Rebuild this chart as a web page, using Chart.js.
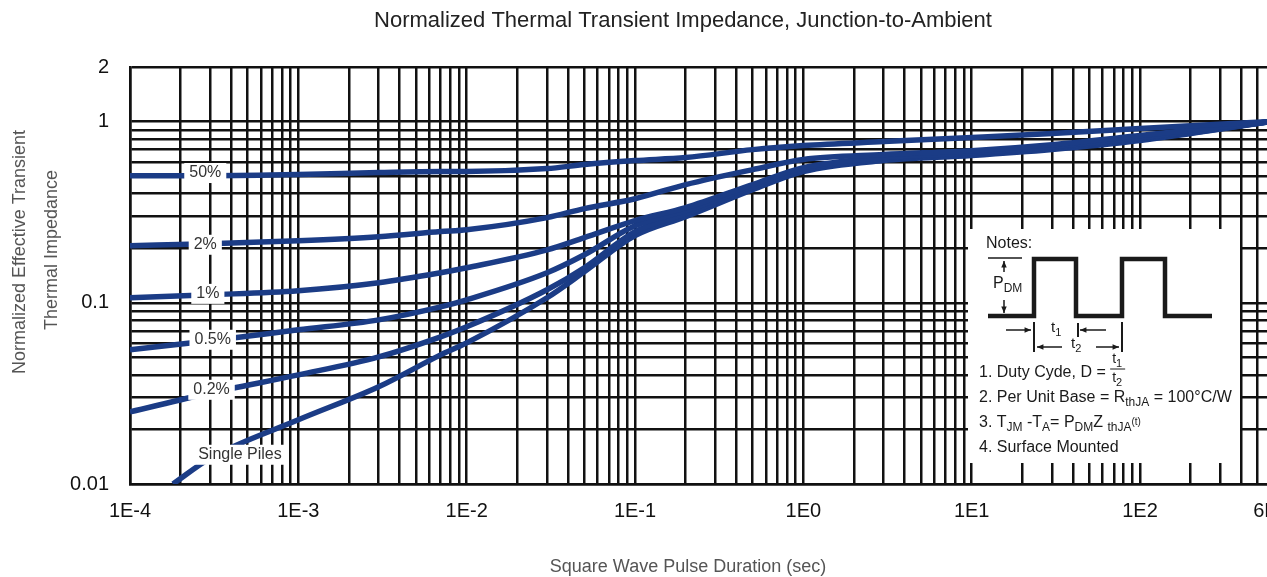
<!DOCTYPE html>
<html lang="en">
<head>
<meta charset="UTF-8">
<title>Normalized Thermal Transient Impedance, Junction-to-Ambient</title>
<script src="https://cdn.jsdelivr.net/npm/chart.js@4"></script>
<style>
  * { margin: 0; padding: 0; box-sizing: border-box; }
  html, body { width: 1267px; height: 577px; overflow: hidden; background: #fff; }
  #wrap { position: relative; width: 1290px; height: 577px; }
</style>
</head>
<body>
<div id="wrap"><canvas id="zth" width="1290" height="577"></canvas></div>
<script>
const pulseTimes = [1e-4, 3e-4, 1e-3, 3e-3, 7e-3, 1e-2, 3e-2, 5e-2, 0.1, 0.2, 0.5, 1, 3, 10, 30, 100, 600];
const singleTimes = [1.8e-4, 3e-4, 1e-3, 3e-3, 7e-3, 1e-2, 3e-2, 5e-2, 0.1, 0.2, 0.5, 1, 3, 10, 30, 100, 600];

// normalized effective transient thermal impedance per duty cycle
const duty50 = [0.503, 0.503, 0.510, 0.523, 0.530, 0.530, 0.550, 0.579, 0.609, 0.633, 0.700, 0.737, 0.775, 0.816, 0.858, 0.915, 1.0];
const duty2  = [0.2065, 0.212, 0.220, 0.2315, 0.247, 0.253, 0.295, 0.331, 0.375, 0.449, 0.543, 0.617, 0.657, 0.691, 0.746, 0.837, 1.0];
const duty1  = [0.1066, 0.1107, 0.1165, 0.129, 0.1464, 0.156, 0.196, 0.229, 0.284, 0.335, 0.449, 0.557, 0.633, 0.674, 0.728, 0.816, 1.0];
const duty05 = [0.0550, 0.0617, 0.0709, 0.0805, 0.0950, 0.1039, 0.1464, 0.184, 0.266, 0.322, 0.437, 0.543, 0.625, 0.666, 0.718, 0.806, 1.0];
const duty02 = [0.0250, 0.0318, 0.0400, 0.0503, 0.0649, 0.0737, 0.118, 0.156, 0.247, 0.310, 0.426, 0.536, 0.617, 0.657, 0.709, 0.795, 1.0];
const singlePulse = [0.010, 0.0139, 0.0226, 0.0344, 0.0516, 0.0601, 0.1066, 0.1483, 0.235, 0.299, 0.421, 0.530, 0.609, 0.649, 0.700, 0.785, 1.0];

// axes
const xMin = 1e-4, xMax = 600;
const yMin = 0.01, yMax = 2;
const xTickLabels = { '-4': '1E-4', '-3': '1E-3', '-2': '1E-2', '-1': '1E-1', '0': '1E0', '1': '1E1', '2': '1E2' };
const yTickValues = [0.01, 0.02, 0.03, 0.04, 0.05, 0.06, 0.07, 0.08, 0.09,
                     0.1, 0.2, 0.3, 0.4, 0.5, 0.6, 0.7, 0.8, 0.9, 1, 2];
const yTickLabels = { '0.01': '0.01', '0.1': '0.1', '1': '1', '2': '2' };

const xTickValues = [];
for (let e = -4; e <= 2; e++) {
  for (let m = 1; m <= 9; m++) {
    const v = m * Math.pow(10, e);
    if (v <= xMax * 1.0001) xTickValues.push(v);
  }
}

const curveLabels = [
  { text: '50%', t: 2.8e-4, v: 0.52 },
  { text: '2%', t: 2.8e-4, v: 0.209 },
  { text: '1%', t: 2.9e-4, v: 0.112 },
  { text: '0.5%', t: 3.1e-4, v: 0.0625 },
  { text: '0.2%', t: 3.05e-4, v: 0.0331 },
  { text: 'Single Piles', t: 4.5e-4, v: 0.0145 }
];

const FONT = '"Liberation Sans", Arial, sans-serif';
const CURVE = '#1b3c86';
const GRID = '#111';

function series(times, vals) {
  return times.map((t, i) => ({ x: t, y: vals[i] }));
}

function curve(label, times, vals) {
  return {
    label,
    data: series(times, vals),
    borderColor: CURVE,
    borderWidth: 5.5,
    pointRadius: 0,
    fill: false,
    cubicInterpolationMode: 'monotone'
  };
}

// draws text runs with sub/superscripts, returns end x
function rich(ctx, parts, x, y, size) {
  parts.forEach(([s, k]) => {
    ctx.font = (k ? Math.round(size * 0.75) : size) + 'px ' + FONT;
    const dy = k === 'sub' ? size * 0.32 : k === 'sup' ? -size * 0.38 : 0;
    ctx.fillText(s, x, y + dy);
    x += ctx.measureText(s).width;
  });
  return x;
}

function arrow(ctx, x1, y1, x2, y2) {
  const a = Math.atan2(y2 - y1, x2 - x1);
  ctx.beginPath();
  ctx.moveTo(x1, y1);
  ctx.lineTo(x2, y2);
  ctx.stroke();
  ctx.beginPath();
  ctx.moveTo(x2, y2);
  ctx.lineTo(x2 - 7 * Math.cos(a - 0.4), y2 - 7 * Math.sin(a - 0.4));
  ctx.lineTo(x2 - 7 * Math.cos(a + 0.4), y2 - 7 * Math.sin(a + 0.4));
  ctx.closePath();
  ctx.fill();
}

const decor = {
  id: 'decor',
  afterDatasetsDraw(chart) {
    const ctx = chart.ctx;
    const xs = chart.scales.x, ys = chart.scales.y;
    ctx.save();

    // curve labels with white backing
    ctx.font = '16px ' + FONT;
    ctx.textAlign = 'center';
    ctx.textBaseline = 'middle';
    curveLabels.forEach(l => {
      const px = xs.getPixelForValue(l.t);
      const py = ys.getPixelForValue(l.v);
      const w = ctx.measureText(l.text).width;
      ctx.fillStyle = '#fff';
      ctx.fillRect(px - w / 2 - 5, py - 10, w + 10, 20);
      ctx.fillStyle = '#333';
      ctx.fillText(l.text, px, py);
    });

    // notes box
    ctx.fillStyle = '#fff';
    ctx.fillRect(968, 229, 272, 234);
    ctx.fillStyle = '#1a1a1a';
    ctx.strokeStyle = '#1a1a1a';
    ctx.textAlign = 'left';
    ctx.font = '16px ' + FONT;
    ctx.fillText('Notes:', 986, 244);

    ctx.lineWidth = 4.5;
    ctx.lineJoin = 'miter';
    ctx.beginPath();
    ctx.moveTo(988, 316);
    [[1034, 316], [1034, 259], [1076, 259], [1076, 316], [1122, 316],
     [1122, 259], [1165, 259], [1165, 316], [1212, 316]].forEach(p => ctx.lineTo(p[0], p[1]));
    ctx.stroke();

    ctx.lineWidth = 1.5;
    ctx.beginPath();
    ctx.moveTo(988, 258); ctx.lineTo(1022, 258);
    ctx.stroke();
    arrow(ctx, 1004, 272, 1004, 261);
    arrow(ctx, 1004, 300, 1004, 313);
    rich(ctx, [['P'], ['DM', 'sub']], 993, 284, 16);

    arrow(ctx, 1006, 330, 1031, 330);
    arrow(ctx, 1106, 330, 1080, 330);
    arrow(ctx, 1062, 347, 1037, 347);
    arrow(ctx, 1096, 347, 1119, 347);
    ctx.lineWidth = 2;
    ctx.beginPath();
    ctx.moveTo(1034, 322); ctx.lineTo(1034, 352);
    ctx.moveTo(1078, 323); ctx.lineTo(1078, 337);
    ctx.moveTo(1122, 322); ctx.lineTo(1122, 352);
    ctx.stroke();
    rich(ctx, [['t'], ['1', 'sub']], 1051, 328, 15);
    rich(ctx, [['t'], ['2', 'sub']], 1071, 344, 15);

    let ex = rich(ctx, [['1. Duty Cyde, D = ']], 979, 373, 16);
    rich(ctx, [['t'], ['1', 'sub']], ex + 2, 359, 14);
    ctx.lineWidth = 1;
    ctx.beginPath();
    ctx.moveTo(ex, 369); ctx.lineTo(ex + 15, 369);
    ctx.stroke();
    rich(ctx, [['t'], ['2', 'sub']], ex + 2, 378, 14);

    rich(ctx, [['2. Per Unit Base = R'], ['thJA', 'sub'], [' = 100°C/W']], 979, 398, 16);
    ex = rich(ctx, [['3. T'], ['JM', 'sub'], [' -T'], ['A', 'sub'], ['= P'], ['DM', 'sub'], ['Z '], ['thJA', 'sub']], 979, 423, 16);
    rich(ctx, [['(t)', 'sup']], ex, 427, 13);
    rich(ctx, [['4. Surface Mounted']], 979, 448, 16);

    ctx.restore();
  },
  afterDraw(chart) {
    const ctx = chart.ctx;
    ctx.save();
    ctx.textAlign = 'center';
    ctx.textBaseline = 'middle';
    ctx.fillStyle = '#222';
    ctx.font = '22px ' + FONT;
    ctx.fillText('Normalized Thermal Transient Impedance, Junction-to-Ambient', 683, 21);
    ctx.fillStyle = '#555';
    ctx.font = '18px ' + FONT;
    ctx.fillText('Square Wave Pulse Duration (sec)', 688, 567);
    ctx.translate(20, 252);
    ctx.rotate(-Math.PI / 2);
    ctx.fillText('Normalized Effective Transient', 0, 0);
    ctx.fillText('Thermal Impedance', 2, 32);
    ctx.restore();
  }
};

new Chart(document.getElementById('zth'), {
  type: 'line',
  data: {
    datasets: [
      curve('50%', pulseTimes, duty50),
      curve('2%', pulseTimes, duty2),
      curve('1%', pulseTimes, duty1),
      curve('0.5%', pulseTimes, duty05),
      curve('0.2%', pulseTimes, duty02),
      curve('Single Piles', singleTimes, singlePulse)
    ]
  },
  options: {
    responsive: false,
    animation: false,
    layout: { padding: { top: 67, right: 19, left: 0, bottom: 0 } },
    plugins: {
      legend: { display: false },
      title: { display: false },
      tooltip: { enabled: false }
    },
    scales: {
      x: {
        type: 'logarithmic',
        min: xMin,
        max: xMax,
        afterFit: s => { s.height = 93; s.paddingLeft = 0; s.paddingRight = 0; },
        afterBuildTicks: s => { s.ticks = xTickValues.map(v => ({ value: v })); },
        grid: { color: GRID, lineWidth: 2.5, drawTicks: false },
        border: { color: GRID, width: 2.5 },
        ticks: {
          autoSkip: false,
          maxRotation: 0,
          padding: 15,
          color: '#111',
          font: { family: FONT, size: 20 },
          callback: v => {
            if (Math.abs(v - 600) < 1e-6) return '6E2';
            const e = Math.round(Math.log10(v));
            return Math.abs(Math.log10(v) - e) < 1e-9 ? (xTickLabels[e] || '') : '';
          }
        }
      },
      y: {
        type: 'logarithmic',
        min: yMin,
        max: yMax,
        afterFit: s => { s.width = 130; s.paddingTop = 0; s.paddingBottom = 0; },
        afterBuildTicks: s => { s.ticks = yTickValues.map(v => ({ value: v })); },
        grid: { color: GRID, lineWidth: 2.5, drawTicks: false },
        border: { color: GRID, width: 2.5 },
        ticks: {
          autoSkip: false,
          padding: 21,
          color: '#111',
          font: { family: FONT, size: 20 },
          callback: v => yTickLabels[String(+v.toPrecision(6))] || ''
        }
      }
    }
  },
  plugins: [decor]
});
</script>
</body>
</html>
